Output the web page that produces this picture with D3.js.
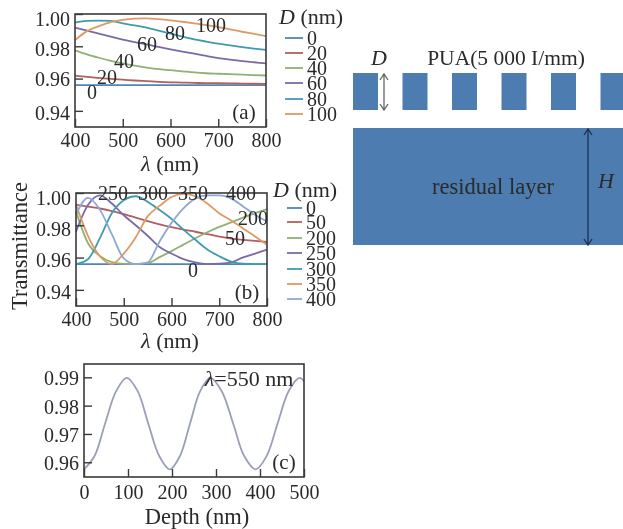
<!DOCTYPE html>
<html>
<head>
<meta charset="utf-8">
<script src="https://cdn.jsdelivr.net/npm/d3@7"></script>
<style>
  html, body { margin: 0; padding: 0; background: #fff; }
  svg { display: block; filter: blur(0.4px); }
  text { font-family: "Liberation Serif", serif; fill: #2a2a2a; }
  .domain { display: none; }
</style>
</head>
<body>
<div id="chart"></div>
<script>
// wavelength grid shared by panels (a) and (b)
const wavelengths = [400, 425, 450, 475, 500, 525, 550, 575, 600, 625, 650, 675, 700, 725, 750, 775, 800]

// panel (a)
const a0 = [.956, .956, .956, .956, .956, .956, .956, .956, .956, .956, .956, .956, .956, .956, .956, .956, .956]
const a20 = [.9618, .961, .9604, .9598, .9593, .9588, .9584, .958, .9577, .9575, .9573, .9572, .9571, .957, .9569, .9568, .9567]
const a40 = [.9775, .975, .9729, .971, .9694, .968, .9668, .9658, .9652, .9645, .9638, .9633, .963, .9627, .9624, .9621, .9619]
const a60 = [.9916, .9897, .9878, .986, .9841, .9826, .9812, .9796, .9781, .9767, .9754, .974, .9727, .9717, .9708, .9701, .9694]
const a80 = [.9946, .9957, .9959, .9957, .9942, .9929, .9915, .9897, .9878, .986, .9843, .9829, .9816, .9805, .9795, .9786, .9778]
const a100 = [.9838, .9894, .9925, .995, .9964, .9971, .9973, .9968, .9961, .9952, .9942, .9931, .9919, .9905, .989, .9877, .9863]
const aKeys = ['0', '20', '40', '60', '80', '100']
const aSeries = [a0, a20, a40, a60, a80, a100]
const aColors = ['#4f86b8', '#b0605f', '#8fb172', '#7a6aa8', '#3f9cad', '#de9a66']

// panel (b)
const b0 = [.956, .956, .956, .956, .956, .956, .956, .956, .956, .956, .956, .956, .956, .956, .956, .956, .956]
const b50 = [.9928, .9915, .9904, .9888, .9869, .9848, .9826, .9805, .9788, .9773, .976, .9745, .973, .9718, .971, .9703, .9697]
const b200 = [.9886, .969, .961, .9572, .9561, .956, .9565, .9603, .964, .968, .972, .9757, .979, .9818, .9848, .9875, .99]
const b250 = [.976, .9925, .9985, .9935, .9862, .98, .9735, .9665, .9625, .959, .957, .956, .9562, .957, .9601, .9625, .9649]
const b300 = [.956, .959, .972, .9875, .9955, .998, .9945, .9895, .984, .9773, .971, .965, .9608, .9575, .9562, .956, .956]
const b350 = [.9928, .9735, .9608, .956, .9625, .9725, .9855, .992, .9975, .9995, .998, .9935, .9875, .983, .978, .9731, .968]
const b400 = [.9866, .997, .9897, .9745, .9595, .956, .957, .97, .9815, .9905, .9965, .9985, .9985, .9965, .9917, .9865, .9824]
const bKeys = ['0', '50', '200', '250', '300', '350', '400']
const bSeries = [b0, b50, b200, b250, b300, b350, b400]
const bColors = ['#4f86b8', '#b0605f', '#8fb172', '#7a6aa8', '#3f9cad', '#de9a66', '#8fa8d4']

// panel (c)
const depths = [0, 24, 48, 73, 97, 122, 146, 171, 195, 218, 241, 264, 287, 313, 339, 364, 390, 415, 440, 465, 490, 500]
const cValues = [.9575, .9622, .9737, .9851, .9898, .9851, .9737, .9622, .9575, .9622, .9737, .9851, .9898, .9851, .9737, .9622, .9575, .9622, .9737, .9851, .9898, .9885]

const svg = d3.select('#chart').append('svg').attr('width', 623).attr('height', 529)

function panel(cfg) {
  const x = d3.scaleLinear().domain(cfg.xDomain).range([cfg.left, cfg.right])
  const y = d3.scaleLinear().domain(cfg.yDomain).range([cfg.bottom, cfg.top])
  const g = svg.append('g')
  const line = d3.line().curve(cfg.curve)
    .x((d, i) => x(cfg.xs[i]))
    .y(d => y(d))

  g.selectAll('path.curve')
    .data(cfg.series)
    .enter()
    .append('path')
    .attr('class', 'curve')
    .attr('fill', 'none')
    .attr('stroke', (d, i) => cfg.colors[i])
    .attr('stroke-width', 1.8)
    .attr('d', line)

  g.append('rect')
    .attr('x', cfg.left).attr('y', cfg.top)
    .attr('width', cfg.right - cfg.left).attr('height', cfg.bottom - cfg.top)
    .attr('fill', 'none').attr('stroke', '#3a3a3a').attr('stroke-width', 1.6)

  const xAxis = g.append('g')
    .attr('transform', 'translate(0,' + cfg.bottom + ')')
    .call(d3.axisBottom(x).tickValues(cfg.xTicks).tickSizeInner(-8).tickSizeOuter(0).tickPadding(cfg.xPad))
  const yAxis = g.append('g')
    .attr('transform', 'translate(' + cfg.left + ',0)')
    .call(d3.axisLeft(y).tickValues(cfg.yTicks).tickFormat(d3.format(cfg.yFormat)).tickSizeInner(-8).tickSizeOuter(0).tickPadding(5))

  xAxis.selectAll('.tick line').attr('stroke', '#3a3a3a').attr('stroke-width', 1.4)
  yAxis.selectAll('.tick line').attr('stroke', '#3a3a3a').attr('stroke-width', 1.4)
  xAxis.selectAll('text').attr('font-size', 20).attr('font-family', '"Liberation Serif", serif')
  yAxis.selectAll('text').attr('font-size', 20).attr('font-family', '"Liberation Serif", serif')
    .attr('transform', (d, i) => 'translate(0,' + cfg.yNudge[i] + ')')

  return g
}

function label(str, x, y, size, italic) {
  return svg.append('text')
    .attr('x', x).attr('y', y)
    .attr('text-anchor', 'middle')
    .attr('dominant-baseline', 'central')
    .attr('font-size', size || 20)
    .attr('font-style', italic ? 'italic' : 'normal')
    .text(str)
}

function legend(keys, colors, ys, x0, x1, titleX, titleY) {
  const t = svg.append('text').attr('x', titleX).attr('y', titleY).attr('font-size', 22)
  t.append('tspan').attr('font-style', 'italic').text('D')
  t.append('tspan').text(' (nm)')
  keys.forEach((k, i) => {
    svg.append('line')
      .attr('x1', x0).attr('x2', x1).attr('y1', ys[i]).attr('y2', ys[i])
      .attr('stroke', colors[i]).attr('stroke-width', 1.8)
    svg.append('text')
      .attr('x', x1 + 4).attr('y', ys[i])
      .attr('dominant-baseline', 'central')
      .attr('font-size', 20)
      .text(k)
  })
}

function lambdaLabel(x, y) {
  const t = svg.append('text').attr('x', x).attr('y', y)
    .attr('text-anchor', 'middle').attr('dominant-baseline', 'central').attr('font-size', 22)
  t.append('tspan').attr('font-style', 'italic').text('λ')
  t.append('tspan').text(' (nm)')
}

const wlTicks = [400, 500, 600, 700, 800]
const tTicks = [.94, .96, .98, 1]

// (a)
panel({
  left: 75, right: 266, top: 14, bottom: 127,
  xDomain: [400, 800], yDomain: [.93, 1],
  xs: wavelengths, series: aSeries, colors: aColors,
  xTicks: wlTicks, yTicks: tTicks, yFormat: '.2f', yNudge: [2, 1, 3, 5], xPad: 6,
  curve: d3.curveMonotoneX
})
legend(aKeys, aColors, [38, 53, 68, 83, 99, 114], 285, 303, 279, 24)
label('0', 92, 92); label('20', 107, 77); label('40', 124, 61); label('60', 147, 44)
label('80', 175, 33); label('100', 211, 25); label('(a)', 244, 112, 21)
lambdaLabel(170, 163)

// (b)
panel({
  left: 76, right: 267, top: 193, bottom: 306,
  xDomain: [400, 800], yDomain: [.93, 1],
  xs: wavelengths, series: bSeries, colors: bColors,
  xTicks: wlTicks, yTicks: tTicks, yFormat: '.2f', yNudge: [2, 3, 4, 5], xPad: 6,
  curve: d3.curveMonotoneX
})
legend(bKeys, bColors, [208, 222, 238, 253, 269, 284, 299], 287, 302, 273, 197)
label('250', 113, 193); label('300', 153, 193); label('350', 193, 193); label('400', 241, 193)
label('200', 253, 218); label('50', 235, 238); label('0', 193, 270); label('(b)', 247, 292, 21)
lambdaLabel(170, 340)
svg.append('text')
  .attr('transform', 'translate(19,246) rotate(-90)')
  .attr('text-anchor', 'middle').attr('dominant-baseline', 'central')
  .attr('font-size', 22.5)
  .text('Transmittance')

// (c)
panel({
  left: 84, right: 304, top: 364, bottom: 477,
  xDomain: [0, 500], yDomain: [.9548, .9947],
  xs: depths, series: [cValues], colors: ['#9a9fb8'],
  xTicks: [0, 100, 200, 300, 400, 500], yTicks: [.96, .97, .98, .99], yFormat: '.2f', yNudge: [1, 1, 1, 1], xPad: 8,
  curve: d3.curveCatmullRom
})
const cNote = svg.append('text').attr('x', 249).attr('y', 378)
  .attr('text-anchor', 'middle').attr('dominant-baseline', 'central').attr('font-size', 22)
cNote.append('tspan').attr('font-style', 'italic').text('λ')
cNote.append('tspan').text('=550 nm')
label('(c)', 284, 462, 21)
label('Depth (nm)', 197, 516, 22.5)

// structure sketch
const pillarCount = 6
const pillarPitch = 49.5
const pillarFill = '#4c7cb0'
svg.selectAll('rect.pillar')
  .data(d3.range(pillarCount))
  .enter()
  .append('rect')
  .attr('class', 'pillar')
  .attr('x', d => 353 + d * pillarPitch)
  .attr('y', 73)
  .attr('width', 25)
  .attr('height', 37)
  .attr('fill', pillarFill)
svg.append('rect')
  .attr('x', 353).attr('y', 128).attr('width', 270).attr('height', 117)
  .attr('fill', pillarFill)

function doubleArrow(x, y0, y1, color) {
  const head = 'M' + (x - 4) + ',' + (y0 + 6) + 'L' + x + ',' + y0 + 'L' + (x + 4) + ',' + (y0 + 6)
    + 'M' + (x - 4) + ',' + (y1 - 6) + 'L' + x + ',' + y1 + 'L' + (x + 4) + ',' + (y1 - 6)
    + 'M' + x + ',' + y0 + 'L' + x + ',' + y1
  svg.append('path').attr('d', head).attr('fill', 'none').attr('stroke', color).attr('stroke-width', 1.3)
}
doubleArrow(384, 74, 110, '#666')
doubleArrow(588, 129, 245, '#20304f')

label('D', 379, 57, 22, true)
label('PUA(5 000 I/mm)', 506, 58, 21.5)
label('residual layer', 493, 186, 22.5)
label('H', 606, 180, 22, true)
</script>
</body>
</html>
